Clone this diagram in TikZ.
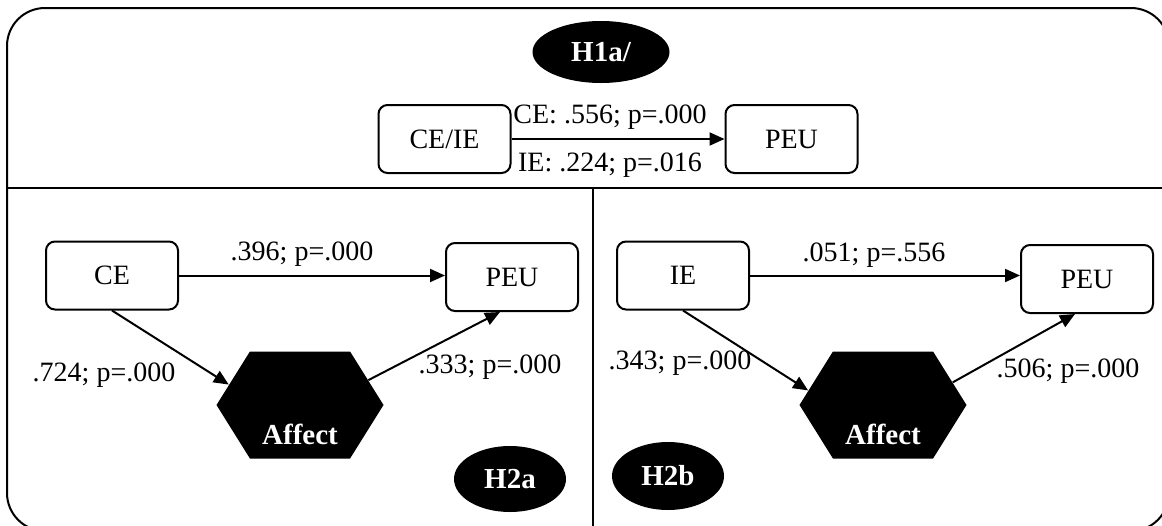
\documentclass[tikz,border=0pt]{standalone}
\usepackage{fontspec}
\setmainfont{Liberation Serif}
\usetikzlibrary{shapes.geometric, shapes.symbols, arrows.meta, calc}
\newcommand{\coeffont}{\fontsize{14}{17}\selectfont}
\newcommand{\hypfont}{\fontsize{14.5}{17}\selectfont\bfseries}

\begin{document}
\begin{tikzpicture}[x=0.5pt, y=-0.5pt, font=\coeffont,
    box/.style={draw, rounded corners=4.5pt, line width=1pt, minimum width=66pt, minimum height=34pt},
    hyp/.style={ellipse, fill=black, text=white, font=\hypfont, inner sep=0pt},
    affect/.style={signal, signal to=west and east, signal pointer angle=116, fill=black, text=white,
      font=\hypfont, minimum width=83.5pt, minimum height=53.5pt, inner sep=0pt, text height=39.5pt, text depth=0pt},
    link/.style={-{Triangle[length=7.5pt, width=6.5pt]}, line width=1pt}]
    \useasboundingbox (0,0) rectangle (1162,525);

    % Frame
    \draw[line width=1pt, rounded corners=19pt] (7,8) rectangle (1169,531);
    \draw[line width=0.9pt] (7,188) -- (1169,188);
    \draw[line width=0.9pt] (593,188) -- (593,531);

    % Nodes (H1a)
    \node[hyp, minimum width=68.5pt, minimum height=31pt] (h1a) at (601,52) {H1a/};
    \node[box] (ceie) at (444.5,139) {CE/IE};
    \node[box] (peuT) at (791.5,139) {PEU};
    \node (ceCoef) at (610,117) {CE: .556; p=.000};
    \node (ieCoef) at (610,165) {IE: .224; p=.016};

    % Nodes (H2a)
    \node[box] (ce) at (112,275.5) {CE};
    \node[box] (peuL) at (512,277) {PEU};
    \node[affect] (affL) at (300,405) {Affect};
    \node[hyp, minimum width=56pt, minimum height=33pt] (h2a) at (510,479) {H2a};
    \node (ceDir) at (302,254) {.396; p=.000};
    \node (ceAff) at (104,375) {.724; p=.000};
    \node (affPeuL) at (490,367) {.333; p=.000};

    % Nodes (H2b)
    \node[box] (ie) at (683,275.5) {IE};
    \node[box] (peuR) at (1087,279) {PEU};
    \node[affect] (affR) at (883,405) {Affect};
    \node[hyp, minimum width=56pt, minimum height=34pt] (h2b) at (668,476) {H2b};
    \node (ieDir) at (874,255) {.051; p=.556};
    \node (ieAff) at (680,363) {.343; p=.000};
    \node (affPeuR) at (1068,371) {.506; p=.000};

    % Paths
    \draw[link] (ceie) -- (peuT);
    \draw[link] (ce.east) -- (ce.east -| peuL.west);
    \draw[link] (ce.south) -- (affL.164);
    \draw[link] (affL.20) -- ($(peuL.south)+(-12,0)$);
    \draw[link] (ie.east) -- (ie.east -| peuR.west);
    \draw[link] (ie.south) -- (affR.169);
    \draw[link] (affR.18) -- ($(peuR.south)+(-12,0)$);
\end{tikzpicture}
\end{document}
